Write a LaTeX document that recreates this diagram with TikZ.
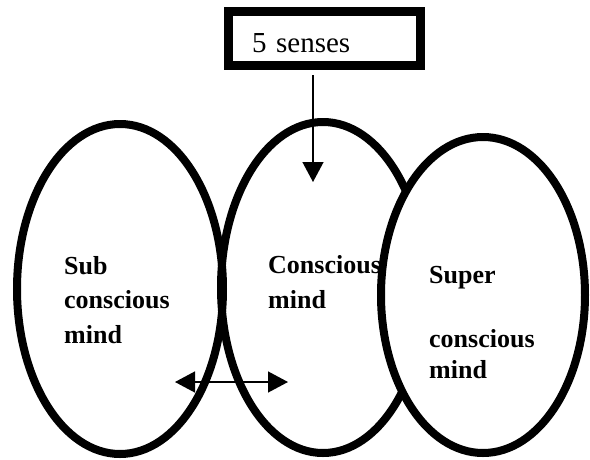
\documentclass[tikz,border=0pt]{standalone}
\usepackage{fontspec}
\setmainfont{Liberation Serif}
\usetikzlibrary{shapes.geometric,arrows.meta}
\begin{document}
\begin{tikzpicture}[x=1pt,y=-1pt,
  mind/.style={ellipse, draw, line width=8pt, inner sep=0pt},
  lbl/.style={anchor=base west, inner sep=0pt, font=\bfseries\fontsize{26}{31}\selectfont},
  head/.style={Triangle[length=20pt,width=21pt]},
  link/.style={line width=1.4pt}]
\useasboundingbox (0,0) rectangle (590,459);

% the two left ellipses
\node[mind, minimum width=206pt, minimum height=330pt] (sub) at (120,289) {};
\node[mind, minimum width=204pt, minimum height=331pt] (con) at (323,287.5) {};

\node[lbl] (sub1) at (64,274) {Sub};
\node[lbl] (sub2) at (64,308) {conscious};
\node[lbl] (sub3) at (64,343) {mind};

\node[lbl] (con1) at (268,273) {Conscious};
\node[lbl] (con2) at (268,308) {mind};

% input box
\node[draw, line width=9pt, text width=145pt, align=left, inner xsep=23.5pt,
      inner ysep=0pt, minimum height=54pt, text height=27pt, text depth=0pt,
      font=\fontsize{29}{34}\selectfont] (senses) at (324.5,38.5) {5 senses};

\coordinate (drop) at (313,182);
\draw[link, -{Triangle[length=20pt,width=21pt]}] ([yshift=-5pt]senses.south -| drop) -- (drop);

\coordinate (left) at (175,382);
\coordinate (right) at (288,382);
\draw[link, {Triangle[length=20pt,width=21pt]}-{Triangle[length=20pt,width=21pt]}] (left) -- (right);

% right ellipse covers the others
\node[mind, fill=white, minimum width=204pt, minimum height=316pt] (sup) at (483,295) {};
\node[lbl] (sup1) at (429,283) {Super};
\node[lbl] (sup2) at (429,347) {conscious};
\node[lbl] (sup3) at (429,378) {mind};
\end{tikzpicture}
\end{document}
